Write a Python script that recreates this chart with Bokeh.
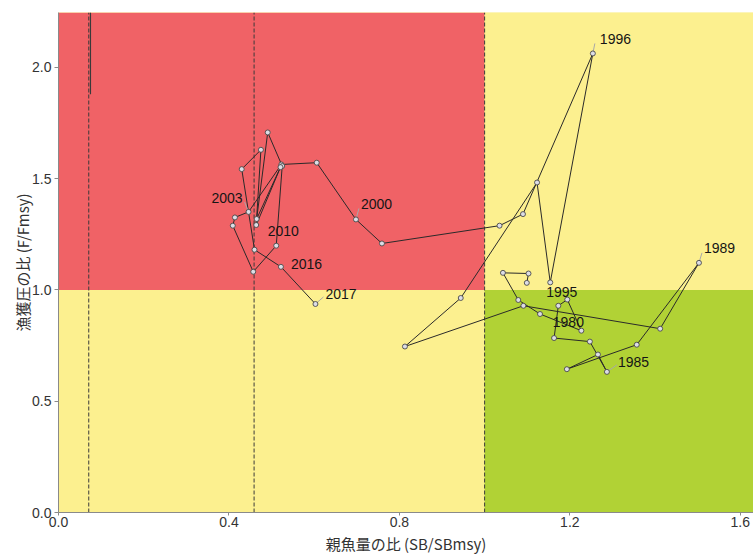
from bokeh.plotting import figure
from bokeh.models import Range1d, FixedTicker, PrintfTickFormatter, ColumnDataSource
from bokeh.core.properties import value
from bokeh.embed import file_html
from bokeh.resources import INLINE

# Stock trajectory: spawning biomass ratio (SB/SBmsy) and fishing pressure ratio (F/Fmsy)
years = list(range(1975, 2018))
sb_ratio = [1.099, 1.103, 1.043, 1.079, 1.130, 1.227, 1.194, 1.173, 1.163, 1.247,
            1.287, 1.266, 1.193, 1.357, 1.503, 1.412, 1.091, 0.813, 0.944, 1.123,
            1.154, 1.254, 1.090, 1.035, 0.759, 0.698, 0.606, 0.523, 0.446, 0.414,
            0.409, 0.457, 0.511, 0.525, 0.491, 0.465, 0.521, 0.464, 0.475, 0.430,
            0.460, 0.522, 0.603]
f_ratio = [1.032, 1.074, 1.077, 0.955, 0.892, 0.817, 0.957, 0.929, 0.784, 0.768,
           0.632, 0.710, 0.644, 0.754, 1.122, 0.826, 0.929, 0.746, 0.964, 1.483,
           1.034, 2.063, 1.341, 1.289, 1.209, 1.317, 1.572, 1.564, 1.351, 1.326,
           1.289, 1.082, 1.199, 1.557, 1.708, 1.319, 1.552, 1.292, 1.630, 1.543,
           1.181, 1.104, 0.937]

labelled_years = [1980, 1985, 1989, 1995, 1996, 2000, 2003, 2010, 2016, 2017]

# Reference points (ratios) and limit lines on the SB axis
sb_msy = 1.0
f_msy = 1.0
sb_limit_lines = [0.071, 0.459]

x_max, y_max = 1.631, 2.247
x_ticks = [0.0, 0.4, 0.8, 1.2, 1.6]
y_ticks = [0.0, 0.5, 1.0, 1.5, 2.0]

# --- layout / style ---
FRAME_W, FRAME_H = 695, 500
RED, YELLOW, GREEN = "#F06266", "#FCF08F", "#B1D235"
px_x = FRAME_W / x_max  # pixels per data unit
px_y = FRAME_H / y_max

# label placement: (dx, dy) in screen pixels from the point, text alignment, leader end
label_style = {
    1980: (-13, -9, "center", None),
    1985: (11, -10, "left", (10, -7)),
    1989: (5, -15, "left", (3, -10)),
    1995: (-4, 10, "left", None),
    1996: (7, -14, "left", (2, -10)),
    2000: (5, -15, "left", (3, -11)),
    2003: (-6, -14, "right", (-4, -10)),
    2010: (11, 12, "left", None),
    2016: (10, -3, "left", None),
    2017: (10, -10, "left", (8, -7)),
}

p = figure(frame_width=FRAME_W, frame_height=FRAME_H,
           x_range=Range1d(0, x_max), y_range=Range1d(0, y_max),
           output_backend="svg", toolbar_location=None,
           min_border_left=58, min_border_right=0, min_border_top=12, min_border_bottom=43)
p.outline_line_color = None
p.grid.visible = False
p.background_fill_color = YELLOW
p.border_fill_color = "white"

# Kobe quadrants
p.quad(left=[0], right=[sb_msy], bottom=[f_msy], top=[y_max], fill_color=RED, line_color=None)
p.quad(left=[0], right=[sb_msy], bottom=[0], top=[f_msy], fill_color=YELLOW, line_color=None)
p.quad(left=[sb_msy], right=[x_max], bottom=[f_msy], top=[y_max], fill_color=YELLOW, line_color=None)
p.quad(left=[sb_msy], right=[x_max], bottom=[0], top=[f_msy], fill_color=GREEN, line_color=None)

# vertical limit lines
for xv in sb_limit_lines + [sb_msy]:
    p.line([xv, xv], [0, y_max], line_color="#3a3a3a", line_width=1, line_dash="4 2")
p.line([sb_limit_lines[0] + 0.004] * 2, [1.88, y_max], line_color="#3a3a3a", line_width=1.2)

# trajectory
src = ColumnDataSource(dict(x=sb_ratio, y=f_ratio, year=years))
p.line("x", "y", source=src, line_color="#2a2a2a", line_width=1)

# leader lines for year labels
lx0, ly0, lx1, ly1 = [], [], [], []
for yr in labelled_years:
    dx, dy, align, lead = label_style[yr]
    if lead is None:
        continue
    i = years.index(yr)
    lx0.append(sb_ratio[i]); ly0.append(f_ratio[i])
    lx1.append(sb_ratio[i] + lead[0] / px_x); ly1.append(f_ratio[i] - lead[1] / px_y)
p.segment(lx0, ly0, lx1, ly1, line_color="#A8A8A8", line_width=1)

p.scatter("x", "y", source=src, size=5, fill_color="#DCDDE6", line_color="#4a4a4a", line_width=0.9)

# year labels
for yr in labelled_years:
    dx, dy, align, lead = label_style[yr]
    i = years.index(yr)
    p.text(x=[sb_ratio[i]], y=[f_ratio[i]], text=[str(yr)], x_offset=dx, y_offset=dy,
           text_align=align, text_baseline="middle", text_font=value("Liberation Sans"),
           text_font_size="14px", text_color="#151515")

# axes
p.xaxis.ticker = FixedTicker(ticks=x_ticks)
p.yaxis.ticker = FixedTicker(ticks=y_ticks)
for ax in (p.xaxis[0], p.yaxis[0]):
    ax.formatter = PrintfTickFormatter(format="%.1f")
    ax.axis_line_color = "#8a8a8a"
    ax.major_tick_line_color = "#8a8a8a"
    ax.minor_tick_line_color = None
    ax.major_tick_in = 0
    ax.major_label_text_font = "Liberation Sans"
    ax.major_label_text_font_size = "14px"
    ax.major_label_text_color = "#333333"
    ax.axis_label_text_font = "Noto Sans CJK JP"
    ax.axis_label_text_font_size = "15px"
    ax.axis_label_text_font_style = "normal"
    ax.axis_label_text_color = "#333333"
p.xaxis.major_tick_out = 3
p.xaxis.major_label_standoff = 1
p.xaxis.axis_label_standoff = 3
p.yaxis.major_tick_out = 4
p.yaxis.major_label_standoff = 3
p.yaxis.axis_label_standoff = -4
p.xaxis.axis_label = "親魚量の比 (SB/SBmsy)"
p.yaxis.axis_label = "漁獲圧の比 (F/Fmsy)"

open("out.html", "w").write(file_html(p, INLINE))
